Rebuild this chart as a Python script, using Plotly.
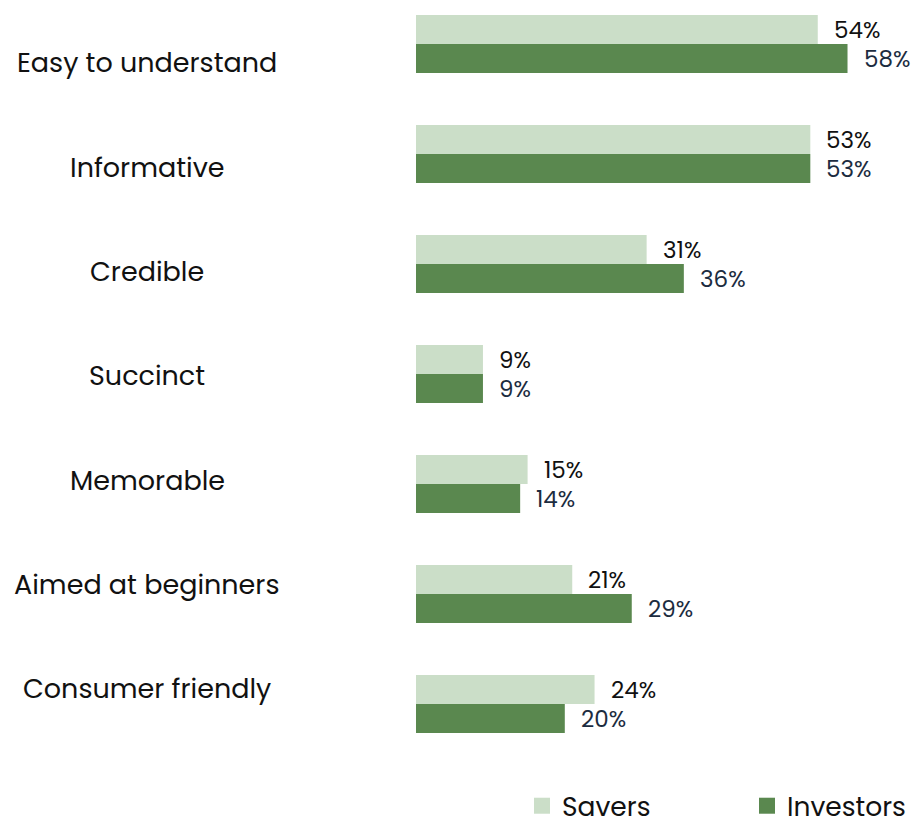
import plotly.graph_objects as go

categories = [
    "Easy to understand",
    "Informative",
    "Credible",
    "Succinct",
    "Memorable",
    "Aimed at beginners",
    "Consumer friendly",
]
savers = [54, 53, 31, 9, 15, 21, 24]
investors = [58, 53, 36, 9, 14, 29, 20]

SAVERS_COLOR = "#cbdec8"
INVESTORS_COLOR = "#5a884f"
FONT = "Poppins, Inter, Noto Sans, sans-serif"

W, H = 917, 819
ML, MR, MT, MB = 416, 0, 0, 60
plot_h = H - MT - MB
plot_w = W - ML - MR

series = [("Savers", savers, SAVERS_COLOR), ("Investors", investors, INVESTORS_COLOR)]

fig = go.Figure()
for name, values, color in series:
    fig.add_trace(go.Bar(
        name=name, y=categories, x=values, orientation="h",
        marker=dict(color=color, line=dict(width=0)),
        legendgroup=name, showlegend=False, hoverinfo="skip",
    ))
# square legend keys, slightly larger than the default bar swatch
for name, values, color in series:
    fig.add_trace(go.Scatter(
        name=name, x=[None], y=[None], mode="markers",
        marker=dict(symbol="square", size=16, color=color, line=dict(width=0)),
        legendgroup=name, showlegend=True, hoverinfo="skip",
    ))

annotations = []
# value labels placed just past the end of each bar
for cat, s, v in zip(categories, savers, investors):
    annotations.append(dict(
        x=s, y=cat, xref="x", yref="y", text=f"{s}%", showarrow=False,
        xanchor="left", yanchor="middle", xshift=14, yshift=14,
        font=dict(family=FONT, size=23, color="#111111"),
    ))
    annotations.append(dict(
        x=v, y=cat, xref="x", yref="y", text=f"{v}%", showarrow=False,
        xanchor="left", yanchor="middle", xshift=14, yshift=-15,
        font=dict(family=FONT, size=23, color="#1c2c40"),
    ))

# category names, centred in the left margin
label_top, label_step = 63, 104.3
for i, cat in enumerate(categories):
    py = label_top + label_step * i
    annotations.append(dict(
        x=0, y=1 - py / plot_h, xref="paper", yref="paper", text=cat,
        showarrow=False, xanchor="center", yanchor="middle", xshift=-269,
        font=dict(family=FONT, size=27, color="#111111"),
    ))

fig.update_layout(
    width=W, height=H,
    margin=dict(l=ML, r=MR, t=MT, b=MB, pad=0, autoexpand=False),
    paper_bgcolor="white", plot_bgcolor="white",
    barmode="group", bargap=0.473, bargroupgap=0,
    xaxis=dict(range=[0, plot_w / 7.44], visible=False, fixedrange=True),
    yaxis=dict(range=[6.5, -0.4], showticklabels=False, showgrid=False,
               zeroline=False, showline=False, ticks="", fixedrange=True),
    showlegend=True,
    legend=dict(
        orientation="h", x=(522 - ML) / plot_w, xanchor="left",
        y=-(806 - plot_h) / plot_h, yanchor="middle",
        entrywidth=180, entrywidthmode="pixels", itemsizing="trace",
        font=dict(family=FONT, size=26.5, color="#111111"),
        traceorder="normal", itemclick=False, itemdoubleclick=False,
    ),
    annotations=annotations,
)

fig.write_html("out.html", config={"displayModeBar": False})
